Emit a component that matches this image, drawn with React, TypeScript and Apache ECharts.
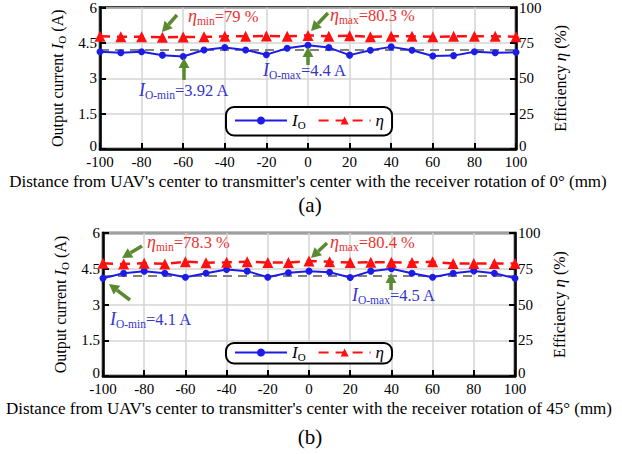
import React, { useEffect, useRef } from "react";
import * as echarts from "echarts";

const F = "Liberation Serif";
const FONT = "'Liberation Serif', serif";

// distance categories (mm)
const xs = [-100, -90, -80, -70, -60, -50, -40, -30, -20, -10, 0, 10, 20, 30, 40, 50, 60, 70, 80, 90, 100];
// panel (a): receiver rotation 0°
const ioA = [4.12, 4.08, 4.12, 3.98, 3.92, 4.2, 4.3, 4.2, 4.0, 4.27, 4.4, 4.3, 3.98, 4.19, 4.33, 4.19, 3.94, 3.96, 4.12, 4.08, 4.1];
const etaA = [79.6, 79.3, 79.3, 79.0, 79.1, 79.3, 79.6, 79.6, 79.9, 79.6, 80.3, 79.7, 80.1, 79.3, 79.6, 79.6, 79.3, 79.6, 79.6, 79.6, 79.4];
// panel (b): receiver rotation 45°
const ioB = [4.1, 4.31, 4.4, 4.31, 4.14, 4.31, 4.47, 4.4, 4.14, 4.33, 4.4, 4.35, 4.13, 4.4, 4.5, 4.31, 4.14, 4.31, 4.41, 4.31, 4.1];
const etaB = [78.8, 78.3, 78.8, 78.4, 79.9, 79.2, 79.5, 79.9, 79.3, 79.3, 80.4, 79.9, 79.3, 79.6, 79.6, 79.3, 79.9, 78.6, 78.7, 78.6, 78.7];
// gray dashed reference level of output current
const ioRefA = 4.2;
const ioRefB = 4.2;
// axis ticks
const xTicks = { min: -100, max: 100, interval: 20 };
const ioTicks = { min: 0, max: 6, interval: 1.5 };
const etaTicks = { min: 0, max: 100, interval: 25 };

const BLUE = "#1c1ce6";
const RED = "#ff1010";
const RED_T = "#e8322e";
const BLUE_T = "#3535cc";
const GREEN = "#5a8a30";
const GRID = "#d4d4d4";

const zip = (a: number[], b: number[]) => a.map((v, i) => [v, b[i]]);

const richFor = (color: string) => ({
  i: { fontFamily: F, fontSize: 18, fontStyle: "italic", fill: color },
  s: { fontFamily: F, fontSize: 11.5, fill: color, padding: [9, 0, 0, 0] },
  n: { fontFamily: F, fontSize: 16.5, fill: color },
});

function label(x: number, yc: number, text: string, color: string) {
  return {
    type: "text",
    x,
    y: yc,
    z: 50,
    style: { text, fill: color, font: `16px ${FONT}`, rich: richFor(color), verticalAlign: "middle" },
  };
}

function arrow(x1: number, y1: number, x2: number, y2: number) {
  const ang = Math.atan2(y2 - y1, x2 - x1);
  const L = 10, W = 5.5;
  const c = Math.cos(ang), s = Math.sin(ang);
  const bx = x2 - L * c, by = y2 - L * s;
  const px = -s, py = c;
  return [
    { type: "line", z: 50, shape: { x1, y1, x2: bx, y2: by }, style: { stroke: GREEN, lineWidth: 3.5 } },
    {
      type: "polygon",
      z: 50,
      shape: { points: [[x2, y2], [bx + W * px, by + W * py], [bx - W * px, by - W * py]] },
      style: { fill: GREEN },
    },
  ];
}

const axisLine = { show: true, onZero: false, lineStyle: { color: "#000", width: 2.5 } };
const axisTick = { show: true, inside: true, length: 6, lineStyle: { color: "#000", width: 2 } };
const tickLabel = { color: "#000", fontFamily: F, fontSize: 15 };
const zeroLift = {
  formatter: (v: number) => (v === 0 ? "{z|0}" : String(v)),
  rich: { z: { fontFamily: F, fontSize: 15, color: "#000", padding: [0, 0, 7, 0] } },
};

function xAxis(gridIndex: number, name: string) {
  return {
    type: "value",
    gridIndex,
    ...xTicks,
    name,
    nameLocation: "middle",
    nameGap: 24,
    nameTextStyle: { color: "#000", fontFamily: F, fontSize: 17 },
    axisLine,
    axisTick,
    axisLabel: { ...tickLabel, margin: 5 },
    splitLine: { show: true, lineStyle: { color: GRID, width: 1.5 } },
  };
}

function leftAxis(gridIndex: number) {
  return {
    type: "value",
    gridIndex,
    position: "left",
    ...ioTicks,
    name: "{n|Output current }{i|I}{s|O}{n| (A)}",
    nameLocation: "middle",
    nameRotate: 90,
    nameGap: 24,
    nameTextStyle: {
      color: "#000",
      fontFamily: F,
      fontSize: 16,
      rich: {
        n: { fontFamily: F, fontSize: 16, color: "#000" },
        i: { fontFamily: F, fontSize: 17, fontStyle: "italic", color: "#000" },
        s: { fontFamily: F, fontSize: 11, color: "#000", padding: [9, 0, 0, 0] },
      },
    },
    axisLine,
    axisTick,
    axisLabel: { ...tickLabel, margin: 3, ...zeroLift },
    splitLine: { show: true, lineStyle: { color: GRID, width: 1.5 } },
  };
}

function rightAxis(gridIndex: number) {
  return {
    type: "value",
    gridIndex,
    position: "right",
    ...etaTicks,
    name: "{n|Efficiency }{i|η}{n| (%)}",
    nameLocation: "middle",
    nameRotate: 90,
    nameGap: 30,
    nameTextStyle: {
      color: "#000",
      fontFamily: F,
      fontSize: 16,
      rich: {
        n: { fontFamily: F, fontSize: 16, color: "#000" },
        i: { fontFamily: F, fontSize: 17, fontStyle: "italic", color: "#000" },
      },
    },
    axisLine,
    axisTick,
    axisLabel: { ...tickLabel, margin: 3, ...zeroLift },
    splitLine: { show: false },
  };
}

function ioSeries(xi: number, yi: number, vals: number[], ref: number) {
  return {
    name: "IO",
    type: "line",
    xAxisIndex: xi,
    yAxisIndex: yi,
    data: zip(xs, vals),
    color: BLUE,
    lineStyle: { color: BLUE, width: 2 },
    symbol: "circle",
    symbolSize: 7,
    itemStyle: { color: BLUE },
    z: 4,
    markLine: {
      silent: true,
      symbol: "none",
      label: { show: false },
      lineStyle: { color: "#808080", type: [9, 6], width: 2 },
      data: [{ yAxis: ref }],
      z: 2,
    },
  };
}

function etaSeries(xi: number, yi: number, vals: number[]) {
  return {
    name: "η",
    type: "line",
    xAxisIndex: xi,
    yAxisIndex: yi,
    data: zip(xs, vals),
    color: RED,
    lineStyle: { color: RED, width: 2.5, type: [10, 7] },
    symbol: "triangle",
    symbolSize: 11,
    itemStyle: { color: RED },
    z: 5,
  };
}

function legend(top: number, pad: number[]) {
  return {
    left: 226,
    top,
    orient: "horizontal",
    data: ["IO", "η"],
    selectedMode: false,
    borderColor: "#000",
    borderWidth: 2,
    borderRadius: 8,
    backgroundColor: "#fff",
    padding: pad,
    itemWidth: 52,
    itemHeight: 10,
    itemGap: 12,
    formatter: (n: string) => (n === "IO" ? "{i|I}{s|O}" : "{i|η}"),
    textStyle: {
      color: "#000",
      fontFamily: F,
      fontSize: 16,
      rich: {
        i: { fontFamily: F, fontSize: 17, fontStyle: "italic", color: "#000" },
        s: { fontFamily: F, fontSize: 11, color: "#000", padding: [9, 0, 0, 0] },
      },
    },
  };
}

export default function App() {
  const ref = useRef<HTMLDivElement>(null);
  useEffect(() => {
    if (!ref.current) return;
    const chart = echarts.init(ref.current, null, { renderer: "svg" });
    const graphic: any[] = [
      label(188, 16, "{i|η}{s|min}{n|=79 %}", RED_T),
      ...arrow(177, 15, 162, 32),
      label(330, 15, "{i|η}{s|max}{n|=80.3 %}", RED_T),
      ...arrow(328, 13, 311, 31),
      label(139, 90, "{i|I}{s|O-min}{n|=3.92 A}", BLUE_T),
      ...arrow(184, 80, 184, 58),
      label(263, 70, "{i|I}{s|O-max}{n|=4.4 A}", BLUE_T),
      ...arrow(308, 65, 308, 47),
      label(147, 242, "{i|η}{s|min}{n|=78.3 %}", RED_T),
      ...arrow(142, 246, 122, 258),
      label(330, 242, "{i|η}{s|max}{n|=80.4 %}", RED_T),
      ...arrow(327, 243, 311, 258),
      label(110, 319, "{i|I}{s|O-min}{n|=4.1 A}", BLUE_T),
      ...arrow(130, 300, 109, 284),
      label(352, 295, "{i|I}{s|O-max}{n|=4.5 A}", BLUE_T),
      ...arrow(391, 290, 391, 273),
      {
        type: "text",
        x: 310,
        y: 205,
        style: { text: "(a)", fill: "#000", font: `21px ${FONT}`, align: "center", verticalAlign: "middle" },
      },
      {
        type: "text",
        x: 310,
        y: 437,
        style: { text: "(b)", fill: "#000", font: `21px ${FONT}`, align: "center", verticalAlign: "middle" },
      },
    ];
    chart.setOption({
      animation: false,
      backgroundColor: "#fff",
      textStyle: { fontFamily: F },
      grid: [
        { left: 100, top: 5, width: 416, height: 144, show: true, borderColor: "#000", borderWidth: 2.5, backgroundColor: "transparent" },
        { left: 103, top: 233, width: 412, height: 143, show: true, borderColor: "#000", borderWidth: 2.5, backgroundColor: "transparent" },
      ],
      xAxis: [
        xAxis(0, "Distance from UAV's center to transmitter's center with the receiver rotation of 0° (mm)"),
        xAxis(1, "Distance from UAV's center to transmitter's center with the receiver rotation of 45° (mm)"),
      ],
      yAxis: [leftAxis(0), rightAxis(0), leftAxis(1), rightAxis(1)],
      legend: [legend(107, [5, 8]), legend(343, [1, 8])],
      series: [
        ioSeries(0, 0, ioA, ioRefA),
        etaSeries(0, 1, etaA),
        ioSeries(1, 2, ioB, ioRefB),
        etaSeries(1, 3, etaB),
      ],
      graphic,
    });
    return () => chart.dispose();
  }, []);
  return (
    <div
      ref={ref}
      style={{ position: "fixed", left: 0, top: 0, width: 622, height: 454, background: "#fff" }}
    />
  );
}
